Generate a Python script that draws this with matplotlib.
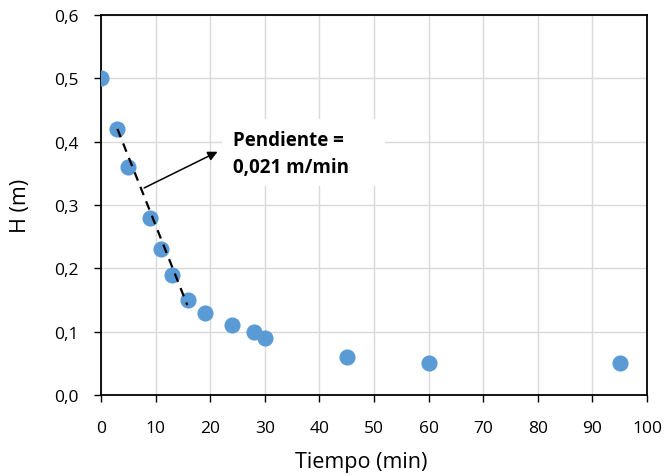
import matplotlib.pyplot as plt
from matplotlib.patches import Rectangle

plt.rcParams['font.family'] = ['Open Sans', 'DejaVu Sans']

tiempo = [0, 3, 5, 9, 11, 13, 16, 19, 24, 28, 30, 45, 60, 95]
altura = [0.50, 0.42, 0.36, 0.28, 0.23, 0.19, 0.15, 0.13, 0.11, 0.10, 0.09, 0.06, 0.05, 0.05]

# tramo lineal usado para la pendiente
tramo_x = [3, 15.8]
tramo_y = [0.42, 0.142]

xticks = list(range(0, 101, 10))
yticks = [0.0, 0.1, 0.2, 0.3, 0.4, 0.5, 0.6]

fig = plt.figure(figsize=(6.66, 4.77), dpi=100)
ax = fig.add_axes([0.1517, 0.1698, 0.8198, 0.7967])

ax.scatter(tiempo, altura, s=135, color='#5B9BD5', zorder=3, linewidths=0)
ax.plot(tramo_x, tramo_y, color='black', linestyle=(0, (4, 3)), linewidth=1.6, zorder=4)

ax.annotate('', xy=(21.8, 0.386), xytext=(7.45, 0.325),
            arrowprops=dict(arrowstyle='-|>', color='black', lw=1.1, mutation_scale=14), zorder=5)
# cuadro blanco del texto
ax.add_patch(Rectangle((22.1, 0.330), 29.9, 0.106, facecolor='white', edgecolor='none', zorder=2))
ax.text(24.2, 0.381, 'Pendiente =\n0,021 m/min', fontsize=13.5, fontweight='bold',
        va='center', ha='left', linespacing=1.45, zorder=5)

ax.set_xlim(0, 100)
ax.set_ylim(0, 0.6)
ax.set_xticks(xticks)
ax.set_yticks(yticks)
ax.set_xticklabels([str(t) for t in xticks])
ax.set_yticklabels([f'{t:.1f}'.replace('.', ',') for t in yticks])
ax.tick_params(labelsize=12.5, direction='out', length=5, width=1)
ax.tick_params(axis='x', pad=13)
ax.tick_params(axis='y', pad=11)

ax.grid(True, color='#D9D9D9', linewidth=1)
ax.set_axisbelow(True)
for s in ax.spines.values():
    s.set_linewidth(1.3)
    s.set_color('black')

ax.set_xlabel('Tiempo (min)', fontsize=15.5, labelpad=11, x=0.477)
ax.set_ylabel('H (m)', fontsize=15.5, labelpad=17)

plt.savefig('out.png', dpi=100)
